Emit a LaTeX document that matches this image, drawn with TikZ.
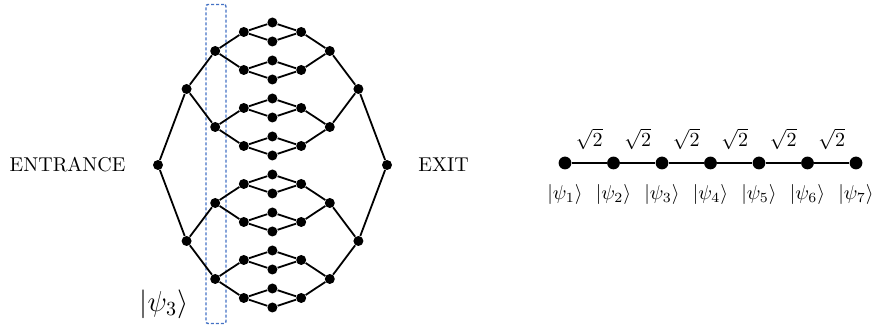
\documentclass[tikz,border=0pt]{standalone}
\usepackage{xcolor}
\usetikzlibrary{positioning}
\definecolor{selblue}{RGB}{68,114,196}

\begin{document}
\begin{tikzpicture}[x=0.5pt,y=-0.5pt,
  tdot/.style={circle,fill=black,inner sep=0pt,minimum size=5pt},
  cdot/.style={circle,fill=black,inner sep=0pt,minimum size=6.4pt},
  edge/.style={line width=0.9pt}]
\useasboundingbox (0,0) rectangle (875,330);
% selected column
\node[draw=selblue,line width=0.7pt,dash pattern=on 1.5pt off 1pt,rounded corners=1pt,minimum width=10pt,minimum height=159.5pt] (sel) at (216,164) {};
\node[font=\Large] (psi) at (164,304) {$|\psi_3\rangle$};
% left tree
\foreach \k in {0,...,4}{
  \pgfmathtruncatemacro\n{2^\k-1}
  \foreach \i in {0,...,\n}
    \node[tdot] (L\k-\i) at ({158+28.6*\k},{165+(\i-\n/2)*304/2^\k}) {};
}
% right tree
\foreach \k in {0,...,3}{
  \pgfmathtruncatemacro\n{2^\k-1}
  \foreach \i in {0,...,\n}
    \node[tdot] (R\k-\i) at ({387-28.6*\k},{165+(\i-\n/2)*304/2^\k}) {};
}
\foreach \k in {0,...,3}{
  \pgfmathtruncatemacro\n{2^\k-1}
  \pgfmathtruncatemacro\kk{\k+1}
  \foreach \i in {0,...,\n}{
    \pgfmathtruncatemacro\a{2*\i}
    \pgfmathtruncatemacro\b{2*\i+1}
    \draw[edge] (L\k-\i) -- (L\kk-\a) (L\k-\i) -- (L\kk-\b);
    \ifnum\k<3
      \draw[edge] (R\k-\i) -- (R\kk-\a) (R\k-\i) -- (R\kk-\b);
    \else
      \draw[edge] (R\k-\i) -- (L4-\a) (R\k-\i) -- (L4-\b);
    \fi
  }
}
\node[left=10pt of L0-0] (entr) {ENTRANCE};
\node[right=9.5pt of R0-0] (exit) {EXIT};
% chain
\foreach \i in {1,...,7}{
  \node[cdot] (p\i) at ({565+48.5*(\i-1)},163) {};
  \node[below=4pt of p\i] (k\i) {$|\psi_{\i}\rangle$};
}
\foreach \i [count=\j from 2] in {1,...,6}
  \draw[edge] (p\i) -- node[above=3pt] (w\i) {$\sqrt{2}$} (p\j);
\end{tikzpicture}
\end{document}
